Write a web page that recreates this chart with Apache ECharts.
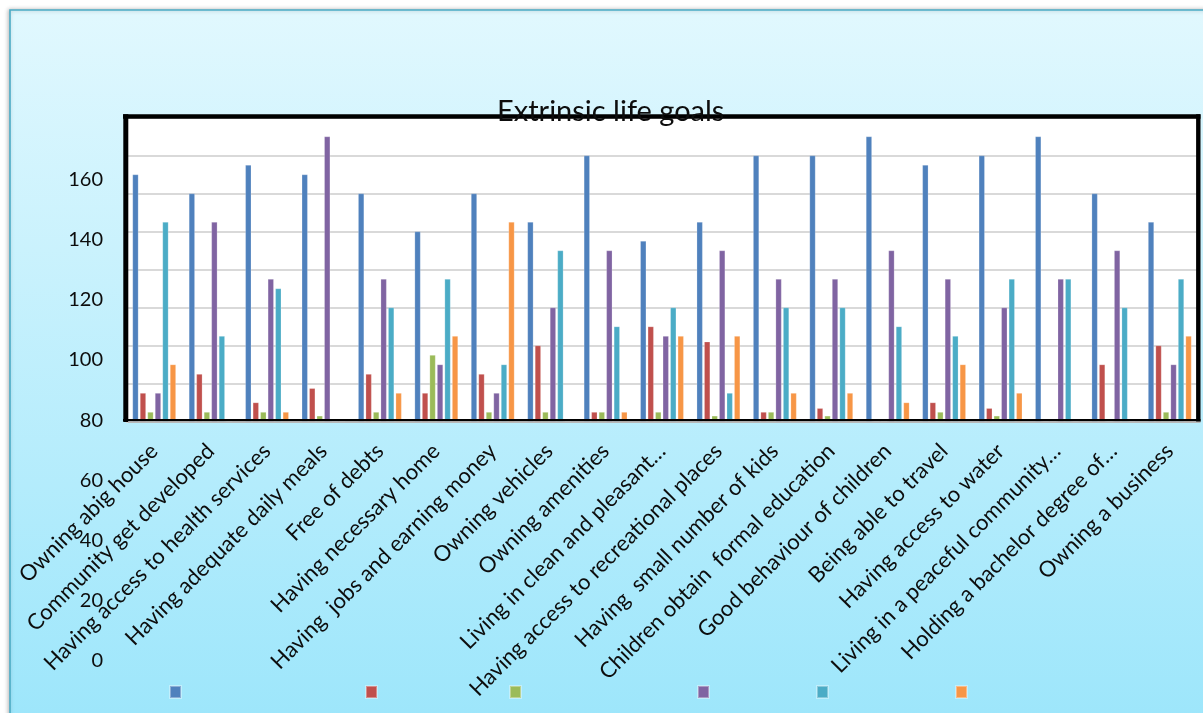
<!DOCTYPE html>
<html>
<head>
<meta charset="utf-8">
<title>Extrinsic life goals</title>
<script src="https://cdn.jsdelivr.net/npm/echarts@6/dist/echarts.min.js"></script>
<style>
  html, body { margin: 0; padding: 0; background: #ffffff; }
  #chart { width: 1203px; height: 713px; }
</style>
</head>
<body>
<div id="chart"></div>
<script>
// Goals listed along the horizontal axis
const categories = [
  'Owning abig house',
  'Community get developed',
  'Having access to health services',
  'Having adequate daily meals',
  'Free of debts',
  'Having necessary home',
  'Having  jobs and earning money',
  'Owning vehicles',
  'Owning amenities',
  'Living in clean and pleasant…',
  'Having access to recreational places',
  'Having  small number of kids',
  'Children obtain  formal education',
  'Good behaviour of children',
  'Being able to travel',
  'Having access to water',
  'Living in a peaceful community…',
  'Holding a bachelor degree of…',
  'Owning a business'
];

// Response counts per goal, one array per series
const series1 = [26, 24, 27, 26, 24, 20, 24, 21, 28, 19, 21, 28, 28, 30, 27, 28, 30, 24, 21];
const series2 = [3, 5, 2, 3.5, 5, 3, 5, 8, 1, 10, 8.4, 1, 1.4, 0, 2, 1.4, 0, 6, 8];
const series3 = [1, 1, 1, 0.6, 1, 7, 1, 1, 1, 1, 0.6, 1, 0.6, 0, 1, 0.6, 0, 0, 1];
const series4 = [3, 21, 15, 30, 15, 6, 3, 12, 18, 9, 18, 15, 15, 18, 15, 12, 15, 18, 6];
const series5 = [21, 9, 14, 0, 12, 15, 6, 18, 10, 12, 3, 12, 12, 10, 9, 15, 15, 12, 15];
const series6 = [6, 0, 1, 0, 3, 9, 21, 0, 1, 9, 9, 3, 3, 2, 6, 3, 0, 0, 9];

const seriesNames = ['Series 1', 'Series 2', 'Series 3', 'Series 4', 'Series 5', 'Series 6'];
const seriesValues = [series1, series2, series3, series4, series5, series6];
const seriesColors = ['#4F81BD', '#C0504D', '#9BBB59', '#8064A2', '#4BACC6', '#F79646'];

// Count scale used by the bars and its gridlines
const countTicks = [0, 4, 8, 12, 16, 20, 24, 28, 32];
// Printed scale down the left side
const scaleTicks = [0, 20, 40, 60, 80, 100, 120, 140, 160];

// Legend keys sit at fixed horizontal spots along the bottom
const legendLefts = [169, 365, 509, 697, 816, 955];

const FONT = 'Lato, "Open Sans", sans-serif';
const W = 1203, H = 713;
const plot = { left: 126, right: 1198, top: 117.5, bottom: 421.5 };

const chart = echarts.init(document.getElementById('chart'), null, { renderer: 'canvas' });

const option = {
  animation: false,
  backgroundColor: '#ffffff',
  color: seriesColors,
  title: {
    text: 'Extrinsic life goals',
    left: 497,
    top: 97,
    padding: 0,
    z: 30,
    textStyle: { fontFamily: FONT, fontSize: 29, fontWeight: 'normal', color: '#0d0d0d' }
  },
  legend: seriesNames.map((name, i) => ({
    data: [name],
    left: legendLefts[i],
    top: 685,
    padding: 0,
    itemWidth: 11,
    itemHeight: 12,
    itemGap: 0,
    icon: 'rect',
    selectedMode: false,
    formatter: () => '',
    textStyle: { fontSize: 1 }
  })),
  grid: [
    // printed scale
    { left: plot.left, right: W - plot.right, top: 119.5, bottom: H - 660.5, show: false },
    // bars
    {
      left: plot.left, right: W - plot.right, top: plot.top, bottom: H - plot.bottom,
      show: true, backgroundColor: '#ffffff', borderWidth: 0
    }
  ],
  xAxis: [
    { gridIndex: 0, type: 'value', show: false },
    {
      gridIndex: 1,
      type: 'category',
      data: categories,
      axisLine: { show: false },
      axisTick: { show: false },
      axisLabel: {
        interval: 0,
        rotate: 45,
        margin: 26,
        fontFamily: FONT,
        fontSize: 22,
        color: '#0d0d0d'
      }
    }
  ],
  yAxis: [
    {
      gridIndex: 0,
      type: 'value',
      min: scaleTicks[0],
      max: scaleTicks[scaleTicks.length - 1] + (scaleTicks[1] - scaleTicks[0]),
      interval: scaleTicks[1] - scaleTicks[0],
      axisLine: { show: false },
      axisTick: { show: false },
      splitLine: { show: false },
      axisLabel: {
        showMaxLabel: false,
        margin: 23,
        fontFamily: FONT,
        fontSize: 20,
        color: '#0d0d0d'
      }
    },
    {
      gridIndex: 1,
      type: 'value',
      min: countTicks[0],
      max: countTicks[countTicks.length - 1],
      interval: countTicks[1] - countTicks[0],
      axisLine: { show: false },
      axisTick: { show: false },
      axisLabel: { show: false },
      splitLine: { show: true, lineStyle: { color: '#d9d9d9', width: 2 } }
    }
  ],
  series: seriesNames.map((name, i) => ({
    name,
    type: 'bar',
    xAxisIndex: 1,
    yAxisIndex: 1,
    data: seriesValues[i],
    barWidth: 6,
    barGap: '25%',
    itemStyle: {
      color: seriesColors[i],
      borderColor: 'rgba(255,255,255,0.35)',
      borderWidth: 0.6
    }
  })),
  graphic: {
    elements: [
      // chart area fill with soft cyan gradient
      {
        type: 'rect',
        z: -100,
        shape: { x: 10, y: 10, width: 1200, height: 710 },
        style: {
          fill: new echarts.graphic.LinearGradient(0, 0, 0, 1, [
            { offset: 0, color: '#e1f8fe' },
            { offset: 1, color: '#9de6fb' }
          ]),
          stroke: '#4bacc6',
          lineWidth: 1.6,
          shadowColor: 'rgba(0,0,0,0.25)',
          shadowBlur: 4,
          shadowOffsetX: -1
        }
      },
      // heavy frame around the plot
      {
        type: 'line', z: 20,
        shape: { x1: 123, y1: 116.5, x2: 1200.5, y2: 116.5 },
        style: { stroke: '#000', lineWidth: 4.6 }
      },
      {
        type: 'line', z: 20,
        shape: { x1: 125.8, y1: 114.2, x2: 125.8, y2: 422 },
        style: { stroke: '#000', lineWidth: 5 }
      },
      {
        type: 'line', z: 20,
        shape: { x1: 1198.3, y1: 114.2, x2: 1198.3, y2: 422 },
        style: { stroke: '#000', lineWidth: 4.4 }
      },
      {
        type: 'line', z: 20,
        shape: { x1: 123, y1: 420.2, x2: 1200.5, y2: 420.2 },
        style: { stroke: '#000', lineWidth: 2.2 }
      },
      {
        type: 'line', z: 20,
        shape: { x1: 128, y1: 422.3, x2: 1200.5, y2: 422.3 },
        style: { stroke: '#b8b8b8', lineWidth: 1.4 }
      }
    ]
  }
};

chart.setOption(option);
</script>
</body>
</html>
